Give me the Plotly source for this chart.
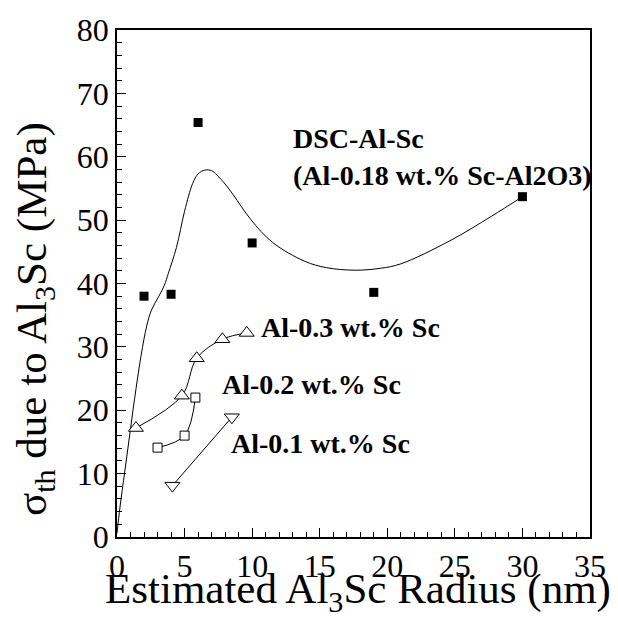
import plotly.graph_objects as go

# DSC-Al-Sc measured points
dsc_x = [2, 4, 6, 10, 19, 30]
dsc_y = [38.0, 38.3, 65.4, 46.4, 38.6, 53.7]

# fitted guide curve through DSC data
fit_x = [0, 0.22, 0.58, 0.94, 1.30, 1.78, 2.2, 2.55, 3.1, 3.5, 3.8, 4.4, 5.0, 5.6, 6.0, 6.5, 7.0,
         7.4, 8.0, 8.6, 9.9, 11.5, 13.9, 15.5, 17.6, 19.5, 21.0, 24.6, 27.7, 30]
fit_y = [0.6, 4.7, 10.4, 16.1, 21.8, 28.6, 33.3, 35.8, 38.0, 39.7, 41.6, 45.7, 51.4, 55.8, 57.3, 57.9, 57.8,
         57.1, 55.7, 54.0, 50.1, 46.5, 43.5, 42.5, 42.1, 42.4, 43.1, 46.7, 50.6, 53.7]

# Al-0.3 wt.% Sc
al03_x = [1.4, 4.8, 5.9, 7.8, 9.6]
al03_y = [17.2, 22.3, 28.2, 31.2, 32.2]

# Al-0.2 wt.% Sc
al02_x = [3.0, 5.0, 5.8]
al02_y = [14.1, 16.0, 22.0]

# Al-0.1 wt.% Sc
al01_x = [4.1, 8.5]
al01_y = [8.1, 18.9]

x_ticks = [0, 5, 10, 15, 20, 25, 30, 35]
y_ticks = [0, 10, 20, 30, 40, 50, 60, 70, 80]

FONT = "Liberation Serif"

fig = go.Figure()

fig.add_trace(go.Scatter(x=fit_x, y=fit_y, mode="lines",
                         line=dict(color="black", width=1, shape="spline", smoothing=1.0), showlegend=False))
fig.add_trace(go.Scatter(x=dsc_x, y=dsc_y, mode="markers",
                         marker=dict(symbol="square", size=9, color="black"), showlegend=False))
fig.add_trace(go.Scatter(x=al03_x, y=al03_y, mode="lines+markers",
                         line=dict(color="black", width=1, shape="spline"),
                         marker=dict(symbol="triangle-up", size=13, color="white", line=dict(color="black", width=1)),
                         showlegend=False))
fig.add_trace(go.Scatter(x=al02_x, y=al02_y, mode="lines+markers",
                         line=dict(color="black", width=1, shape="spline"),
                         marker=dict(symbol="square", size=9, color="white", line=dict(color="black", width=1)),
                         showlegend=False))
fig.add_trace(go.Scatter(x=al01_x, y=al01_y, mode="lines+markers",
                         line=dict(color="black", width=1),
                         marker=dict(symbol="triangle-down", size=13, color="white", line=dict(color="black", width=1)),
                         showlegend=False))

labels = [
    ("DSC-Al-Sc", 12.9, 62.9),
    ("(Al-0.18 wt.% Sc-Al2O3)", 12.9, 57.1),
    ("Al-0.3 wt.% Sc", 10.5, 33.0),
    ("Al-0.2 wt.% Sc", 7.6, 24.0),
    ("Al-0.1 wt.% Sc", 8.3, 14.8),
]
for t, x, y in labels:
    fig.add_annotation(x=x, y=y, text="<b>%s</b>" % t, showarrow=False, xanchor="left", yanchor="middle",
                       font=dict(family=FONT, size=28, color="black"))

# axis titles
fig.add_annotation(xref="paper", yref="paper", x=0.5, y=0, yanchor="middle", yshift=-55, xshift=4,
                   text="Estimated Al<sub>3</sub>Sc Radius (nm)", showarrow=False,
                   font=dict(family=FONT, size=43, color="black"))
fig.add_annotation(xref="paper", yref="paper", x=0, y=0.43, xanchor="center", xshift=-82,
                   text="σ<sub>th</sub> due to Al<sub>3</sub>Sc (MPa)", textangle=-90, showarrow=False,
                   font=dict(family=FONT, size=43, color="black"))

axis_common = dict(showline=True, linecolor="black", linewidth=1.5, mirror=True,
                   ticks="inside", tickcolor="black", tickwidth=1, showgrid=False, zeroline=False,
                   tickfont=dict(family=FONT, size=32, color="black"))

fig.update_xaxes(range=[0, 35], tickvals=x_ticks, ticklen=9,
                 minor=dict(dtick=1, ticks="inside", ticklen=5, tickcolor="black", showgrid=False),
                 **axis_common)
fig.update_yaxes(range=[0, 80], tickvals=y_ticks, ticklen=9,
                 minor=dict(dtick=2, ticks="inside", ticklen=5, tickcolor="black", showgrid=False),
                 **axis_common)

fig.update_layout(width=618, height=620, margin=dict(l=117, r=17, t=23, b=83),
                  plot_bgcolor="white", paper_bgcolor="white")

fig.write_html("out.html")
